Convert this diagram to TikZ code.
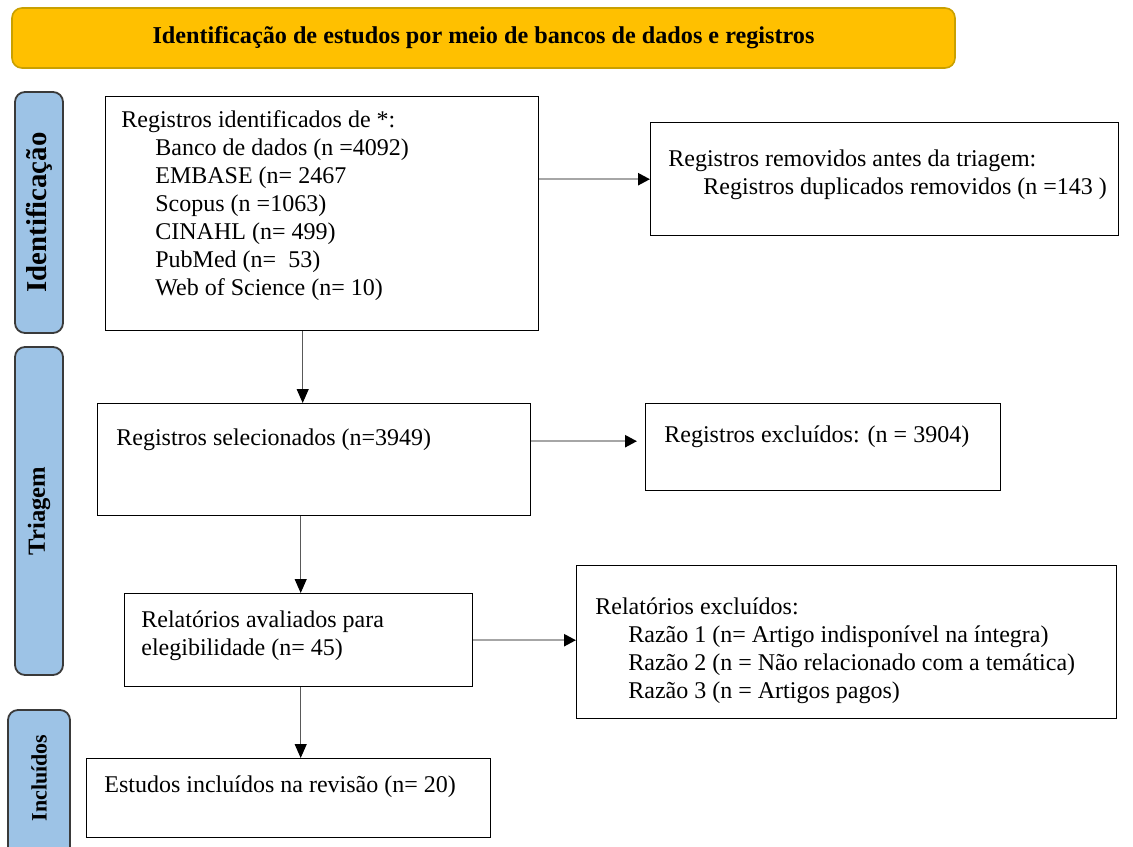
\documentclass[tikz,border=0pt]{standalone}
\usepackage{fontspec}
\setmainfont{Liberation Serif}
\usetikzlibrary{arrows.meta}
\usetikzlibrary{positioning}

\definecolor{bannergold}{HTML}{FFC000}
\definecolor{bannerline}{HTML}{C9A000}
\definecolor{phaseblue}{HTML}{9DC3E6}
\definecolor{phaseline}{HTML}{3A3A3A}
\definecolor{arrowgrey}{HTML}{A6A6A6}

\tikzset{
  box/.style={draw=black, line width=0.7pt, anchor=north west, inner sep=0pt},
  txt/.style={anchor=north west, align=left, inner sep=0pt, font=\fontsize{12}{14}\selectfont},
  phase/.style={draw=phaseline, fill=phaseblue, line width=0.9pt, rounded corners=5pt, rotate=90, inner sep=0pt},
  harrow/.style={draw=arrowgrey, line width=1.2pt, -{Triangle[length=6pt,width=6pt,color=black]}},
  varrow/.style={draw=black!65, line width=0.5pt, -{Triangle[length=7pt,width=6pt,color=black]}},
}

\begin{document}
\begin{tikzpicture}[x=0.5pt, y=-0.5pt]
\useasboundingbox (0,0) rectangle (1133,846);

% banner
\node[draw=bannerline, fill=bannergold, line width=0.8pt, rounded corners=5pt,
      minimum width=471.5pt, minimum height=30pt, inner sep=0pt,
      font=\bfseries\fontsize{12.1}{14}\selectfont] (banner) at (483.5,38)
      {Identificação de estudos por meio de bancos de dados e registros};

% phases
\node[phase, minimum width=120.5pt, minimum height=24pt, font=\bfseries\fontsize{14.4}{16}\selectfont] (phaseid) at (39,212.5) {Identificação};
\node[phase, minimum width=164pt, minimum height=24pt, font=\bfseries\fontsize{12.3}{14}\selectfont] (phasetri) at (39,511) {Triagem};
\node[phase, minimum width=80pt, minimum height=31pt] (phaseinc) at (39,790) {};
\node[rotate=90, inner sep=0pt, font=\bfseries\fontsize{11}{13}\selectfont] (phaseinctxt) at (39,778) {Incluídos};

% identificação
\node[box, minimum width=216.5pt, minimum height=117pt] (ident) at (105,96) {};
\node[txt] (identtxt) at (121,110) {Registros identificados de *:\\
  \hspace{17pt}Banco de dados (n =4092)\\
  \hspace{17pt}EMBASE (n= 2467\\
  \hspace{17pt}Scopus (n =1063)\\
  \hspace{17pt}CINAHL (n= 499)\\
  \hspace{17pt}PubMed (n= \ 53)\\
  \hspace{17pt}Web of Science (n= 10)};

\node[box, minimum width=234pt, minimum height=56.5pt] (removed) at (650,122) {};
\node[txt] (removedtxt) at (668,149) {Registros removidos antes da triagem:\\
  \hspace{17.5pt}Registros duplicados removidos (n =143 )};

% triagem
\node[box, minimum width=216.5pt, minimum height=56pt] (selec) at (97,403) {};
\node[txt] (selectxt) at (116,428) {Registros selecionados (n=3949)};

\node[box, minimum width=177.5pt, minimum height=43.5pt] (exclu) at (645,403) {};
\node[txt] (exclutxt) at (664,425) {Registros excluídos: (n = 3904)};

\node[box, minimum width=174pt, minimum height=46.5pt] (aval) at (124,593) {};
\node[txt] (avaltxt) at (141,610) {Relatórios avaliados para\\elegibilidade (n= 45)};

\node[box, minimum width=270pt, minimum height=76.5pt] (relexc) at (576,565) {};
\node[txt] (relexctxt) at (595,597) {Relatórios excluídos:\\
  \hspace{16.5pt}Razão 1 (n= Artigo indisponível na íntegra)\\
  \hspace{16.5pt}Razão 2 (n = Não relacionado com a temática)\\
  \hspace{16.5pt}Razão 3 (n = Artigos pagos)};

% incluídos
\node[box, minimum width=202pt, minimum height=39.5pt] (incl) at (86,758) {};
\node[txt] (incltxt) at (104,775) {Estudos incluídos na revisão (n= 20)};

% arrows
\draw[harrow] (ident.east |- removed.west) -- (removed.west);
\draw[harrow, shorten >=4pt] ([yshift=3pt]selec.east |- exclu.west) -- ([yshift=3pt]exclu.west);
\draw[harrow] (aval.east) -- (aval.east -| relexc.west);

\draw[varrow] ([xshift=-9.75pt]ident.south) -- ([xshift=-9.75pt]ident.south |- selec.north);
\draw[varrow] ([xshift=-6.75pt]selec.south) -- ([xshift=-6.75pt]selec.south |- aval.north);
\draw[varrow] ([xshift=1pt]aval.south) -- ([xshift=1pt]aval.south |- incl.north);

\end{tikzpicture}
\end{document}
